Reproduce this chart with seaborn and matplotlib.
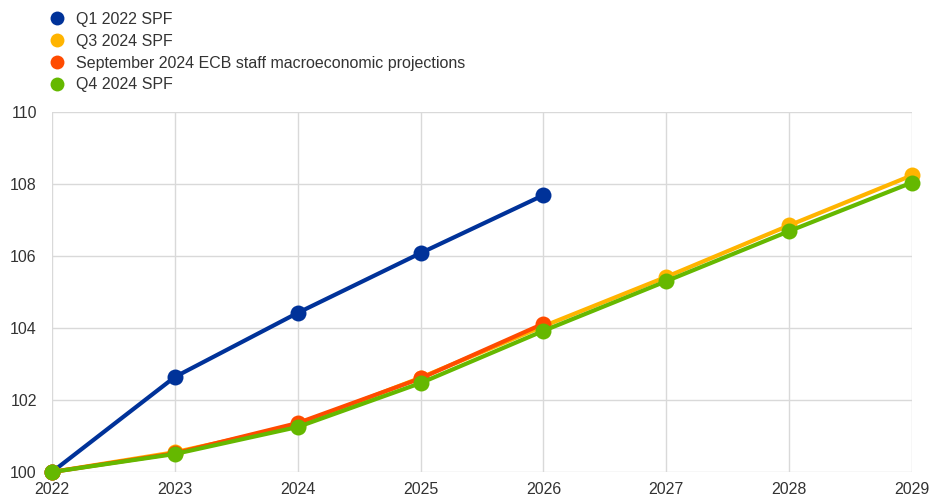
import numpy as np
import pandas as pd
import matplotlib
matplotlib.use("Agg")
import matplotlib.pyplot as plt
from matplotlib.lines import Line2D
import seaborn as sns

# --------------------------------------------
# data (index, 2022 = 100)
# --------------------------------------------
years_q1 = [2022, 2023, 2024, 2025, 2026]
q1_2022_spf = [100.0, 102.64, 104.42, 106.08, 107.69]

years_long = [2022, 2023, 2024, 2025, 2026, 2027, 2028, 2029]
q3_2024_spf = [100.0, 100.55, 101.30, 102.62, 104.05, 105.42, 106.85, 108.24]
q4_2024_spf = [100.0, 100.50, 101.25, 102.47, 103.92, 105.30, 106.69, 108.04]

years_ecb = [2022, 2023, 2024, 2025, 2026]
sep_2024_ecb = [100.0, 100.52, 101.36, 102.60, 104.12]

labels = ["Q1 2022 SPF", "Q3 2024 SPF",
          "September 2024 ECB staff macroeconomic projections", "Q4 2024 SPF"]
colors = ["#003299", "#FFB400", "#FF4B00", "#65B800"]

series = [
    (years_q1, q1_2022_spf),
    (years_long, q3_2024_spf),
    (years_ecb, sep_2024_ecb),
    (years_long, q4_2024_spf),
]

# --------------------------------------------
# plot
# --------------------------------------------
sns.set_theme(style="white")
plt.rcParams['font.family'] = ['Liberation Sans', 'DejaVu Sans']

fig = plt.figure(figsize=(9.46, 5.0), dpi=100)
ax = fig.add_axes([0.055, 0.056, 0.909, 0.72])

for (x, y), lab, col in zip(series, labels, colors):
    df = pd.DataFrame({"year": x, "value": y})
    sns.lineplot(data=df, x="year", y="value", ax=ax, color=col, linewidth=3.0,
                 marker="o", markersize=11.5, markeredgewidth=0, clip_on=False)

ax.set_xlim(2022, 2029)
ax.set_ylim(100, 110)
ax.set_xticks(years_long)
ax.set_yticks(np.arange(100, 111, 2))
ax.set_xlabel("")
ax.set_ylabel("")
ax.grid(True, color="#d9d9d9", linewidth=1)
ax.set_axisbelow(True)
for s in ax.spines.values():
    s.set_visible(False)
ax.tick_params(axis="both", length=0, labelsize=11.5, colors="#333333")
ax.tick_params(axis="x", pad=7)
ax.tick_params(axis="y", pad=11)

handles = [Line2D([], [], linestyle="none", marker="o", markersize=10,
                  markerfacecolor=c, markeredgewidth=0) for c in colors]
fig.legend(handles, labels, loc="upper left", bbox_to_anchor=(0.040, 0.995),
           frameon=False, fontsize=11.5, handletextpad=0.6, labelspacing=0.42,
           handlelength=1.2, borderaxespad=0.2, labelcolor="#333333")

fig.savefig("out.png", dpi=100)
